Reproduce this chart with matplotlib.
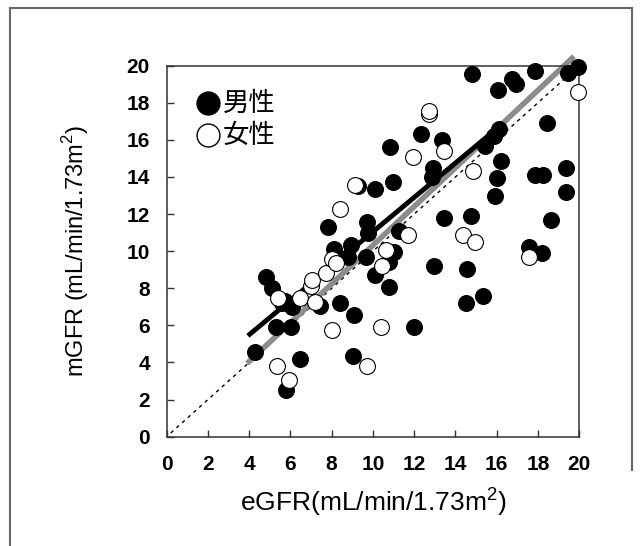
import numpy as np
import matplotlib.pyplot as plt
import matplotlib.lines as mlines

plt.rcParams['mathtext.fontset'] = 'custom'
plt.rcParams['mathtext.rm'] = 'Liberation Sans'

# male (filled) points
male_egfr = [4.28, 4.82, 5.11, 5.31, 5.6, 5.75, 6.1, 5.81, 6.05, 6.47, 7.44, 7.8, 8.1, 8.4,
             8.8, 8.96, 9.1, 9.04, 9.29, 9.69, 9.75, 9.65, 10.09, 10.09, 10.79, 11.0,
             10.8, 10.85, 10.99, 11.28, 11.98, 12.32, 12.92, 12.88, 12.98, 13.37, 13.47,
             14.57, 14.53, 14.77, 14.81, 15.32, 15.42, 15.86, 15.92, 16.02, 16.2, 16.12,
             16.06, 16.76, 16.92, 17.56, 17.85, 17.85, 18.25, 18.19, 18.45, 18.65,
             19.38, 19.38, 19.44, 19.94]
male_mgfr = [4.57, 8.62, 8.0, 5.89, 7.2, 7.3, 7.0, 2.53, 5.89, 4.19, 7.02, 11.32, 10.11, 7.2,
             9.66, 10.34, 6.55, 4.34, 13.53, 11.6, 11.0, 9.66, 13.34, 8.72, 9.43, 9.94,
             8.06, 15.6, 13.75, 11.11, 5.92, 16.3, 14.47, 14.0, 9.19, 16.02, 11.79,
             9.06, 7.21, 11.89, 19.57, 7.58, 15.66, 16.21, 12.96, 13.96, 14.85, 16.6,
             18.68, 19.28, 19.0, 10.23, 19.7, 14.09, 14.09, 9.91, 16.89, 11.7,
             14.51, 13.19, 19.62, 19.94]

# female (open) points
female_egfr = [5.41, 5.35, 5.91, 6.47, 7.0, 7.06, 7.2, 7.74, 8.0, 8.2, 8.04, 8.4, 9.15, 9.73,
               10.39, 10.43, 10.65, 11.72, 11.94, 12.74, 12.74, 13.43, 14.37, 14.87,
               14.97, 17.56, 19.94]
female_mgfr = [7.49, 3.81, 3.06, 7.45, 8.15, 8.43, 7.26, 8.81, 9.57, 9.35, 5.74, 12.26, 13.58,
               3.81, 5.89, 9.19, 10.04, 10.85, 15.09, 17.4, 17.58, 15.38, 10.85, 14.32,
               10.47, 9.7, 18.57]

# regression lines
gray_x = [3.9, 19.75]
gray_y = [3.95, 20.5]
black_x = [3.94, 16.3]
black_y = [5.44, 16.88]
ident = [0.2, 19.5]

ticks = list(range(0, 21, 2))

fig = plt.figure(figsize=(6.41, 5.46), dpi=100)
ax = fig.add_axes([0.260, 0.2002, 0.6435, 0.6795])

ax.plot(ident, ident, color='black', lw=1.0, ls=(0, (2.5, 3)), zorder=1)
ax.plot(gray_x, gray_y, color='#8c8c8c', lw=4, solid_capstyle='butt', clip_on=False, zorder=2)
ax.plot(black_x, black_y, color='black', lw=3.5, solid_capstyle='butt', zorder=3)

ax.scatter(male_egfr, male_mgfr, s=130, c='black', edgecolors='black', linewidths=0.8,
           zorder=4, clip_on=False)
ax.scatter(female_egfr, female_mgfr, s=130, c='white', edgecolors='black', linewidths=0.8,
           zorder=5, clip_on=False)

ax.set_xlim(0, 20)
ax.set_ylim(0, 20)
ax.set_xticks(ticks)
ax.set_yticks(ticks)
ax.set_xticklabels([str(t) for t in ticks], fontsize=15, fontweight='bold', family='Liberation Sans')
ax.set_yticklabels([str(t) for t in ticks], fontsize=15, fontweight='bold', family='Liberation Sans')
ax.tick_params(axis='x', direction='in', length=5, width=1, color='#333333', pad=13)
ax.tick_params(axis='y', direction='in', length=5, width=1, color='#333333', pad=12)
for sp in ax.spines.values():
    sp.set_color('#333333')
    sp.set_linewidth(1.1)

ax.set_xlabel(r'eGFR(mL/min/1.73m$^\mathregular{2}$)', fontsize=19, family='Liberation Sans', labelpad=8)
ax.set_ylabel(r'mGFR (mL/min/1.73m$^\mathregular{2}$)', fontsize=17, family='Liberation Sans', labelpad=26)

# legend as markers + text
ax.plot([0.100], [0.899], transform=ax.transAxes, marker='o', ms=16.5, mfc='black', mec='black', clip_on=False)
ax.plot([0.100], [0.813], transform=ax.transAxes, marker='o', ms=16.5, mfc='white', mec='black', mew=1, clip_on=False)
ax.text(0.136, 0.899, '男性', transform=ax.transAxes, fontsize=19, va='center',
        family=['Noto Sans CJK JP', 'DejaVu Sans'])
ax.text(0.136, 0.813, '女性', transform=ax.transAxes, fontsize=19, va='center',
        family=['Noto Sans CJK JP', 'DejaVu Sans'])

# outer frame (only partly visible in the original)
W, H = 641, 546
fig.add_artist(mlines.Line2D([10 / W, 10 / W], [0, 1 - 8 / H], color='#666666', lw=1.5))
fig.add_artist(mlines.Line2D([10 / W, 632 / W], [1 - 8 / H, 1 - 8 / H], color='#666666', lw=1.5))
fig.add_artist(mlines.Line2D([632 / W, 632 / W], [1 - 8 / H, 1 - 470 / H], color='#666666', lw=1.5))

fig.savefig('out.png', dpi=100)
